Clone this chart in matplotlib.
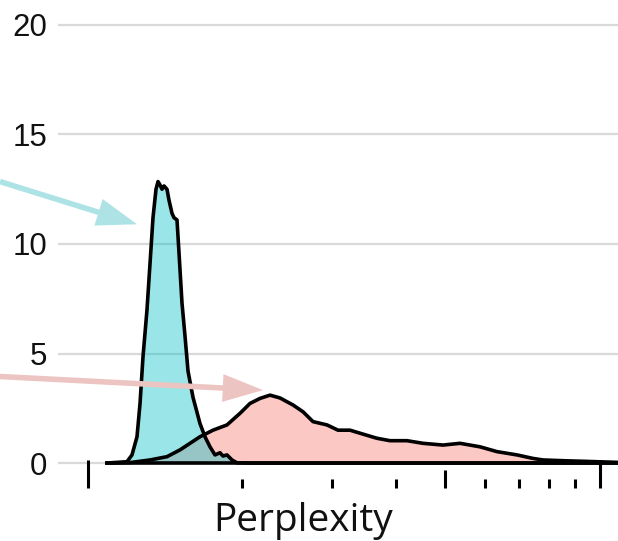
import matplotlib
matplotlib.use("Agg")
import matplotlib.pyplot as plt
import numpy as np

# x positions (arbitrary units along the perplexity axis)
teal_x = [107, 127, 132, 137, 140, 143, 147, 150, 153, 156, 158, 160, 162, 164, 167,
          169, 172, 174, 177, 179, 182, 185, 188, 193, 200, 205, 210, 215, 220, 223,
          227, 232, 237, 250, 618]
teal_y = [0.0, 0.06, 0.37, 1.2, 2.7, 4.85, 7.0, 9.1, 11.2, 12.5, 12.85, 12.7, 12.5, 12.65, 12.5,
          12.0, 11.4, 11.2, 11.1, 9.6, 7.3, 5.8, 4.2, 3.0, 1.8, 1.2, 0.74, 0.37, 0.47, 0.32,
          0.37, 0.14, 0.01, 0.0, 0.0]

pink_x = [107, 130, 150, 167, 180, 190, 200, 207, 213, 227, 240, 250, 260, 270, 280,
          293, 303, 313, 327, 338, 350, 363, 377, 390, 407, 423, 443, 460, 480, 497,
          517, 533, 543, 567, 583, 597, 618]
pink_y = [0.0, 0.02, 0.14, 0.29, 0.6, 0.9, 1.2, 1.36, 1.5, 1.74, 2.27, 2.72, 2.95, 3.1, 2.97,
          2.65, 2.34, 1.89, 1.74, 1.5, 1.5, 1.32, 1.13, 1.02, 1.02, 0.9, 0.82, 0.9, 0.74, 0.52,
          0.37, 0.21, 0.14, 0.1, 0.08, 0.06, 0.03]

y_ticks = [0, 5, 10, 15, 20]
tick_end = [88, 600]
tick_mid = [445]
tick_minor = [242, 332, 396, 485, 519, 549, 575]

# arrows: (start x, start y) -> (tip x, tip y)
teal_arrow = ((0, 12.85), (137, 10.9))
pink_arrow = ((0, 3.95), (263, 3.33))

fig = plt.figure(figsize=(6.18, 5.41), dpi=100)
ax = fig.add_axes([58 / 618, 1 - 469.6 / 541, 560 / 618, 469.6 / 541])
ax.set_xlim(58, 618)
ax.set_ylim(-0.3, 21.14)

for s in ax.spines.values():
    s.set_visible(False)
ax.set_yticks(y_ticks)
ax.set_yticklabels([str(v) for v in y_ticks], family='Liberation Sans', fontsize=22.5)
ax.tick_params(axis='y', length=0, pad=8, colors='#111111')
ax.set_xticks([])
ax.yaxis.grid(True, color='#d9d9d9', lw=1.6)
ax.set_axisbelow(True)

ax.fill_between(pink_x, pink_y, color='#F8766D', alpha=0.4, lw=0)
ax.plot(pink_x, pink_y, color='black', lw=2.6)
ax.plot([pink_x[0], pink_x[-1]], [0, 0], color='black', lw=2.6)
ax.fill_between(teal_x, teal_y, color='#00BFC4', alpha=0.4, lw=0)
ax.plot(teal_x, teal_y, color='black', lw=2.6, solid_joinstyle='round')

# tick marks under the axis
bot = -1.14
ax.vlines(tick_end, bot, 0.14, color='black', lw=2.2, clip_on=False)
ax.vlines(tick_mid, bot, -0.32, color='black', lw=2.2, clip_on=False)
ax.vlines(tick_minor, bot, -0.73, color='black', lw=2.2, clip_on=False)

arrow_style = 'simple,head_length=1.45,head_width=1.0,tail_width=0.2'
ax.annotate('', xy=teal_arrow[1], xytext=teal_arrow[0], annotation_clip=False,
            arrowprops=dict(arrowstyle=arrow_style, mutation_scale=20, color='#aee3e6',
                            shrinkA=0, shrinkB=0, lw=0))
ax.annotate('', xy=pink_arrow[1], xytext=pink_arrow[0], annotation_clip=False,
            arrowprops=dict(arrowstyle=arrow_style, mutation_scale=20, color='#ecc5c2',
                            shrinkA=0, shrinkB=0, lw=0))

fig.text(303 / 618, 1 - 531 / 541, 'Perplexity', family='Open Sans', fontsize=28,
         ha='center', va='baseline', color='#111111')

fig.savefig('out.png', dpi=100)
